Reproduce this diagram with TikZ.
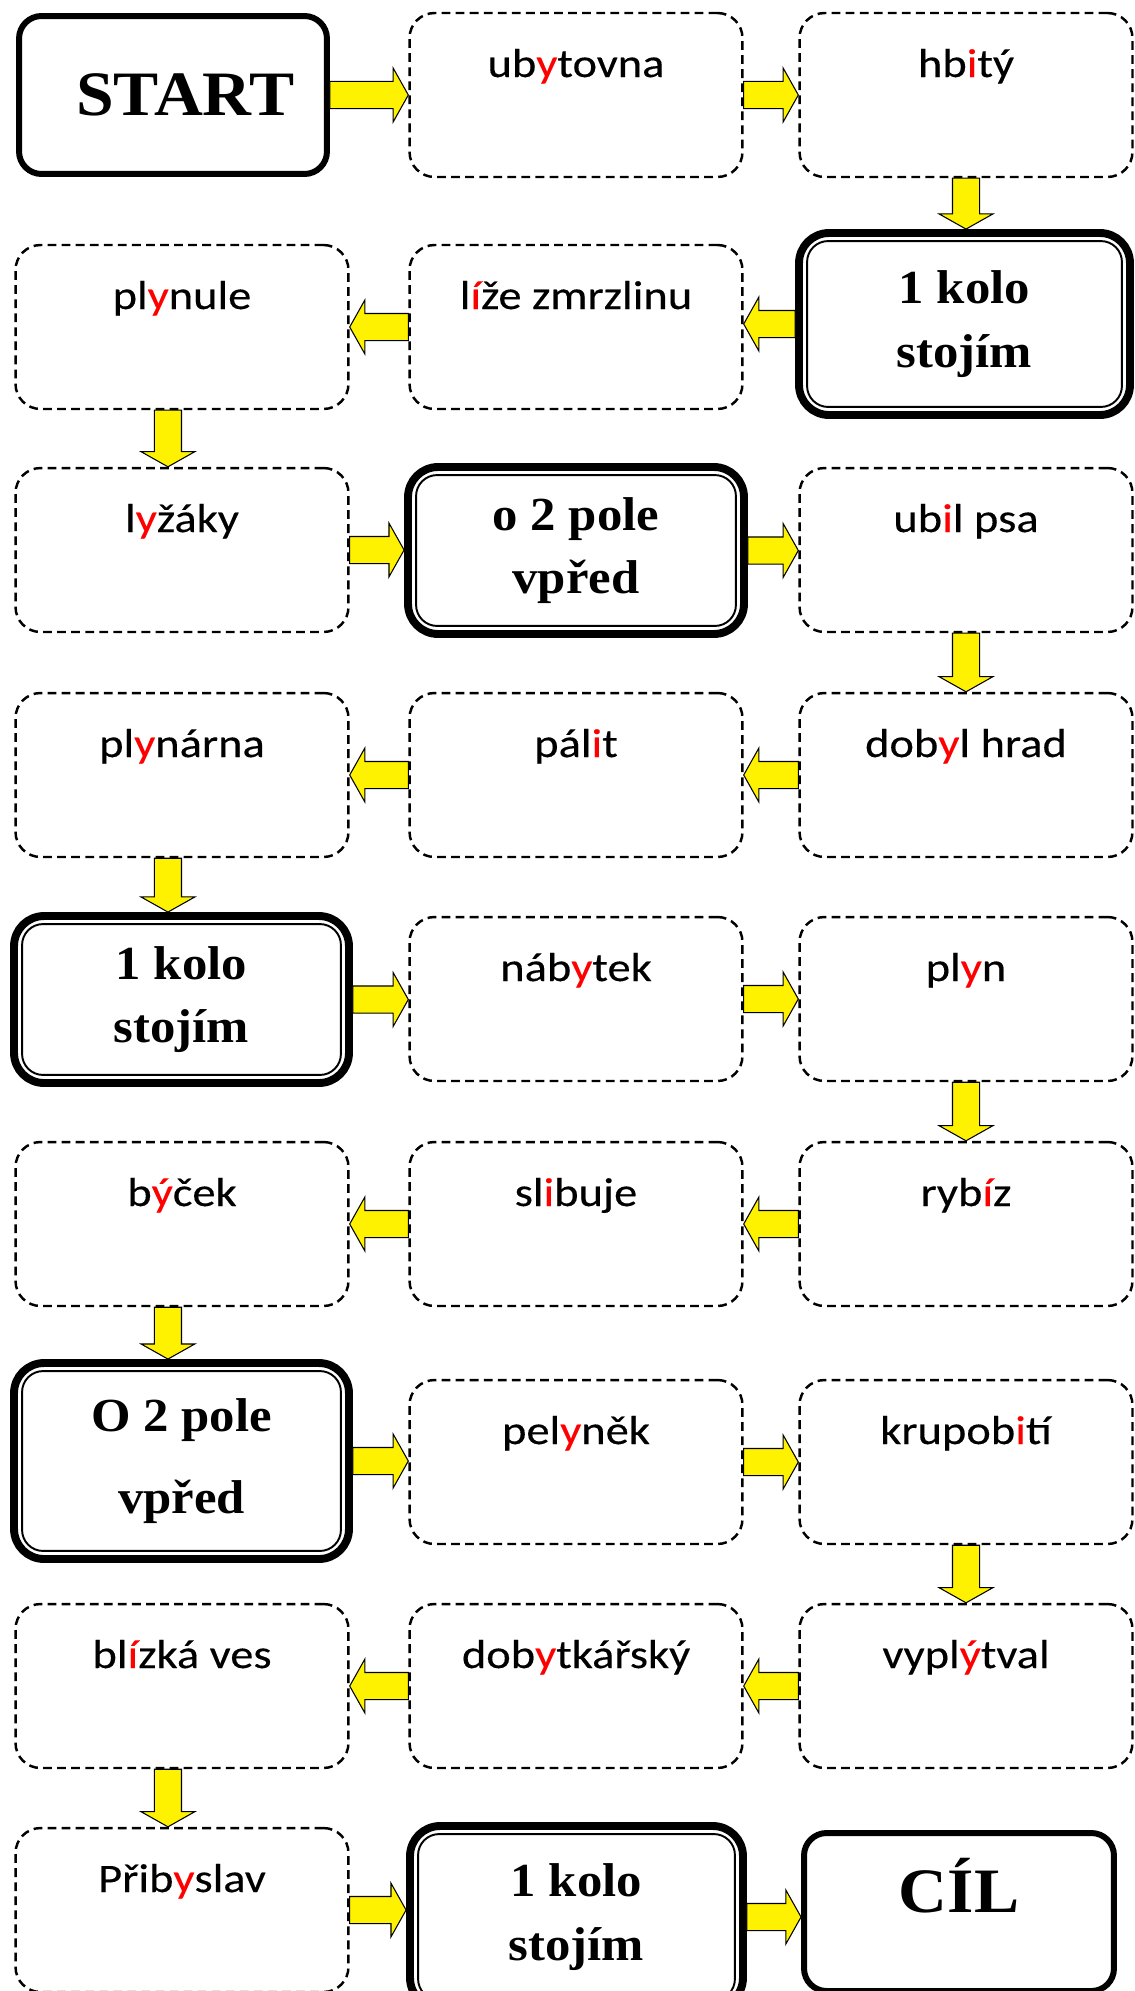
\documentclass[tikz,border=0pt]{standalone}
\usepackage{fontspec}
\setmainfont{Carlito}[FakeStretch=1.15, FakeBold=0.3]
\newfontfamily\headfont{Liberation Serif}[FakeStretch=1.07]
\usepackage{xcolor}
\usepackage{tikz}
\usetikzlibrary{calc}
\newcommand{\yi}[1]{\textcolor{red}{#1}}
\newcommand{\shaft}{7.7pt}
\newcommand{\headw}{15.3pt}
\newcommand{\headl}{8.6pt}
\newcommand{\harr}[2]{%
  \path[blockarr] let \p1=(#1), \p2=(#2), \n1={sign(\x2-\x1)*\headl} in
    (\x1,{\y1+\shaft}) -- ({\x2-\n1},{\y1+\shaft}) -- ({\x2-\n1},{\y1+\headw})
    -- (\x2,\y1) -- ({\x2-\n1},{\y1-\headw}) -- ({\x2-\n1},{\y1-\shaft})
    -- (\x1,{\y1-\shaft}) -- cycle;}
\newcommand{\varr}[3][0pt]{%
  \path[blockarr] let \p1=(#2), \p2=(#3), \n1={\x1+#1} in
    ({\n1-\shaft},\y1) -- ({\n1-\shaft},{\y2+\headl}) -- ({\n1-\headw},{\y2+\headl})
    -- (\n1,\y2) -- ({\n1+\headw},{\y2+\headl}) -- ({\n1+\shaft},{\y2+\headl})
    -- ({\n1+\shaft},\y1) -- cycle;}
\tikzset{
  fld_w/.style = {draw=black, dash pattern=on 5pt off 3pt, line width=1.4pt,
    rounded corners=0.5cm, inner sep=0pt, minimum width=6.66cm,
    text height=1.28cm, text depth=2cm, font=\fontsize{23}{27}\selectfont},% pole se slovem
  fld_s/.style = {draw=black, line width=4.5pt, rounded corners=0.6cm, align=center,
    font=\headfont\bfseries\fontsize{27}{36}\selectfont},% pole s dvojitym okrajem
  fld_e/.style = {draw=black, line width=3.4pt, rounded corners=0.45cm,
    font=\headfont\bfseries\fontsize{36}{40}\selectfont},% start a cil
  fld_in/.style = {draw=black, line width=1.1pt, rounded corners=0.42cm},
  blockarr/.style = {draw=black, fill=yellow, line width=0.6pt}
}
\begin{document}
\begin{tikzpicture}[x=0.02cm, y=-0.02cm]
	\useasboundingbox (0,0) rectangle (1135,1991);
	\clip (0,0) rectangle (1135,1991);
	\fill[white] (0,0) rectangle (1135,1991);

	\node [fld_e, minimum width=6.16cm, minimum height=3.16cm] (start) at (173,95) {\hspace{0.5cm}START};
	\node [fld_w] (ubytovna) at (576,95) {ub\yi{y}tovna};
	\node [fld_w] (hbity) at (966,95) {hb\yi{i}tý};

	\node [fld_s, minimum width=6.62cm, minimum height=3.64cm] (kolo1) at (964.5,324) {1 kolo\\stojím};
	\node [fld_w] (lize) at (576,327) {l\yi{í}že zmrzlinu};
	\node [fld_w] (plynule) at (182,327) {pl\yi{y}nule};

	\node [fld_w] (lyzaky) at (182,550) {l\yi{y}žáky};
	\node [fld_s, minimum width=6.72cm, minimum height=3.34cm] (pole1) at (576,550.5) {o 2 pole\\vpřed};
	\node [fld_w] (ubil) at (966,550) {ub\yi{i}l psa};

	\node [fld_w] (dobyl) at (966,775) {dob\yi{y}l hrad};
	\node [fld_w] (palit) at (576,775) {pál\yi{i}t};
	\node [fld_w] (plynarna) at (182,775) {pl\yi{y}nárna};

	\node [fld_s, minimum width=6.7cm, minimum height=3.34cm] (kolo2) at (181.5,999.5) {1 kolo\\stojím};
	\node [fld_w] (nabytek) at (576,999) {náb\yi{y}tek};
	\node [fld_w] (plyn) at (966,999) {pl\yi{y}n};

	\node [fld_w] (rybiz) at (966,1224) {ryb\yi{í}z};
	\node [fld_w] (slibuje) at (576,1224) {sl\yi{i}buje};
	\node [fld_w] (bycek) at (182,1224) {b\yi{ý}ček};

	\node [fld_s, minimum width=6.7cm, minimum height=3.92cm,
		font=\headfont\bfseries\fontsize{27}{47}\selectfont] (pole2) at (181.5,1461) {O 2 pole\\vpřed};
	\node [fld_w] (pelynek) at (576,1462) {pel\yi{y}něk};
	\node [fld_w] (krupobiti) at (966,1462) {krupob\yi{i}tí};

	\node [fld_w] (vyplytval) at (966,1686) {vypl\yi{ý}tval};
	\node [fld_w] (dobytkarsky) at (576,1686) {dob\yi{y}tkářský};
	\node [fld_w] (blizka) at (182,1686) {bl\yi{í}zká ves};

	\node [fld_w] (pribyslav) at (182,1910) {Přib\yi{y}slav};
	\node [fld_s, minimum width=6.66cm, minimum height=3.64cm] (kolo3) at (576.5,1917) {1 kolo\\stojím};
	\node [fld_e, minimum width=6.2cm, minimum height=3.16cm,
		text height=1cm, text depth=1cm] (cil) at (959,1912) {CÍL};

	\foreach \n in {kolo1,pole1,kolo2,pole2,kolo3}
		\draw [fld_in] ([shift={(0.24cm,-0.24cm)}]\n.north west) rectangle ([shift={(-0.24cm,0.24cm)}]\n.south east);

	\harr{start.east}{ubytovna.west}
	\harr{ubytovna.east}{hbity.west}
	\varr{hbity.south}{kolo1.north}
	\harr{kolo1.west}{lize.east}
	\harr{lize.west}{plynule.east}
	\varr[-8pt]{plynule.south}{lyzaky.north}
	\harr{lyzaky.east}{pole1.west}
	\harr{pole1.east}{ubil.west}
	\varr{ubil.south}{dobyl.north}
	\harr{dobyl.west}{palit.east}
	\harr{palit.west}{plynarna.east}
	\varr[-8pt]{plynarna.south}{kolo2.north}
	\harr{kolo2.east}{nabytek.west}
	\harr{nabytek.east}{plyn.west}
	\varr{plyn.south}{rybiz.north}
	\harr{rybiz.west}{slibuje.east}
	\harr{slibuje.west}{bycek.east}
	\varr[-8pt]{bycek.south}{pole2.north}
	\harr{pole2.east}{pelynek.west}
	\harr{pelynek.east}{krupobiti.west}
	\varr{krupobiti.south}{vyplytval.north}
	\harr{vyplytval.west}{dobytkarsky.east}
	\harr{dobytkarsky.west}{blizka.east}
	\varr[-8pt]{blizka.south}{pribyslav.north}
	\harr{pribyslav.east}{kolo3.west}
	\harr{kolo3.east}{cil.west}
\end{tikzpicture}
\end{document}
